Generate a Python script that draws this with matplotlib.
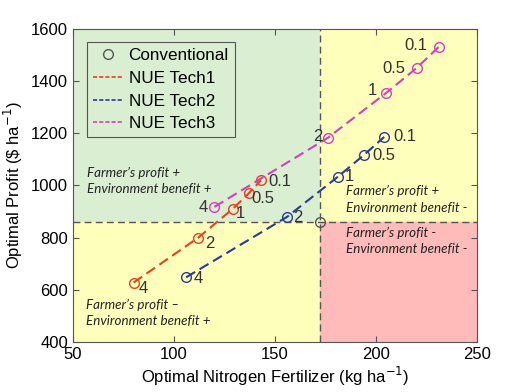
import matplotlib
matplotlib.use("Agg")
import matplotlib.pyplot as plt
from matplotlib.patches import Rectangle
from matplotlib.lines import Line2D

plt.rcParams['font.family'] = ['Liberation Sans', 'DejaVu Sans']

rates = ['4', '2', '1', '0.5', '0.1']
tech1_n = [80, 112, 129, 137, 143]
tech1_p = [628, 800, 910, 970, 1020]
tech2_n = [106, 156, 181, 194, 204]
tech2_p = [648, 880, 1033, 1117, 1186]
tech3_n = [120, 176, 205, 220, 231]
tech3_p = [918, 1182, 1355, 1450, 1531]
conv_n = 172
conv_p = 860

fig = plt.figure(figsize=(5.29, 3.92), dpi=100)
ax = fig.add_axes([0.138, 0.1276, 0.764, 0.7985])
ax.set_xlim(50, 250)
ax.set_ylim(400, 1600)

green = '#daeed2'
yellow = '#ffffbc'
pink = '#ffbaba'
ax.add_patch(Rectangle((50, conv_p), conv_n - 50, 1600 - conv_p, color=green, zorder=0))
ax.add_patch(Rectangle((conv_n, conv_p), 250 - conv_n, 1600 - conv_p, color=yellow, zorder=0))
ax.add_patch(Rectangle((50, 400), conv_n - 50, conv_p - 400, color=yellow, zorder=0))
ax.add_patch(Rectangle((conv_n, 400), 250 - conv_n, conv_p - 400, color=pink, zorder=0))

ax.axvline(conv_n, color='#555555', ls=(0, (5, 3)), lw=1.0, zorder=1)
ax.axhline(conv_p, color='#555555', ls=(0, (5, 3)), lw=1.0, zorder=1)

c1 = '#e8401c'
c2 = '#2a3a9a'
c3 = '#d63ec0'
ms = 7
dash = (0, (5, 2.5))
ax.plot([conv_n], [conv_p], 'o', mfc='none', mec='#555555', ms=ms, mew=1, zorder=3)
for xs, ys, c in [(tech1_n, tech1_p, c1), (tech2_n, tech2_p, c2), (tech3_n, tech3_p, c3)]:
    ax.plot(xs, ys, ls=dash, color=c, lw=1.5, zorder=3)
    ax.plot(xs, ys, ls='none', marker='o', mfc='none', mec=c, ms=ms, mew=1, zorder=3)

fs = 12
tc = '#333333'
k = 1 / 1.39  # px -> pt
# (dx px, dy px downward, ha)
off1 = [(10, 6, 'center'), (12, 6, 'center'), (8, 5, 'center'), (3, 5, 'left'), (7, 1, 'left')]
off2 = [(12, 1, 'center'), (11, 1, 'center'), (12, 0, 'center'), (8, 1, 'left'), (9, 0, 'left')]
off3 = [(-11, 1, 'center'), (-10, -2, 'center'), (-14, -2, 'center'), (-11, 0, 'right'), (-11, -1, 'right')]
for xs, ys, offs in [(tech1_n, tech1_p, off1), (tech2_n, tech2_p, off2), (tech3_n, tech3_p, off3)]:
    for r, x, y, (dx, dy, ha) in zip(rates, xs, ys, offs):
        ax.annotate(r, (x, y), xytext=(dx * k, -dy * k), textcoords='offset points',
                    fontsize=fs, color=tc, ha=ha, va='center', zorder=4)

qfs = 9.6
qc = '#222222'
qkw = dict(fontsize=qfs, color=qc, style='italic', family=['Lato', 'DejaVu Sans'], linespacing=1.45, va='center', ha='left')
ax.text(56.9, 1018, "Farmer\u2019s profit +\nEnvironment benefit +", **qkw)
ax.text(56.4, 512, "Farmer\u2019s profit \u2013\nEnvironment benefit +", **qkw)
ax.text(185, 947, "Farmer\u2019s profit +\nEnvironment benefit -", **qkw)
ax.text(185, 788, "Farmer\u2019s profit -\nEnvironment benefit -", **qkw)

ax.set_xticks([50, 100, 150, 200, 250])
ax.set_yticks([400, 600, 800, 1000, 1200, 1400, 1600])
ax.tick_params(direction='in', top=True, right=True, labelsize=12, length=4, colors='#555555', labelcolor='black')
for s in ax.spines.values():
    s.set_color('#555555')
ax.set_xlabel('Optimal Nitrogen Fertilizer (kg ha$^{-1}$)', fontsize=12, labelpad=2)
ax.set_ylabel('Optimal Profit (\\$ ha$^{-1}$)', fontsize=12, labelpad=4)

handles = [
    Line2D([], [], ls='none', marker='o', mfc='none', mec='#555555', ms=ms, mew=1),
    Line2D([], [], ls=(0, (2.5, 1.2)), color=c1, lw=1.2),
    Line2D([], [], ls=(0, (2.5, 1.2)), color=c2, lw=1.2),
    Line2D([], [], ls=(0, (2.5, 1.2)), color=c3, lw=1.2),
]
labels = ['Conventional', 'NUE Tech1', 'NUE Tech2', 'NUE Tech3']
leg = ax.legend(handles, labels, loc='upper left', bbox_to_anchor=(0.034, 0.957), fontsize=12.3, frameon=True,
                fancybox=False, handlelength=1.75, handletextpad=0.35, borderpad=0.35, labelspacing=0.45,
                borderaxespad=0)
leg.get_frame().set_facecolor(green)
leg.get_frame().set_edgecolor('#555555')
leg.get_frame().set_linewidth(0.8)
leg.get_frame().set_alpha(1)

fig.savefig('out.png', dpi=100)
